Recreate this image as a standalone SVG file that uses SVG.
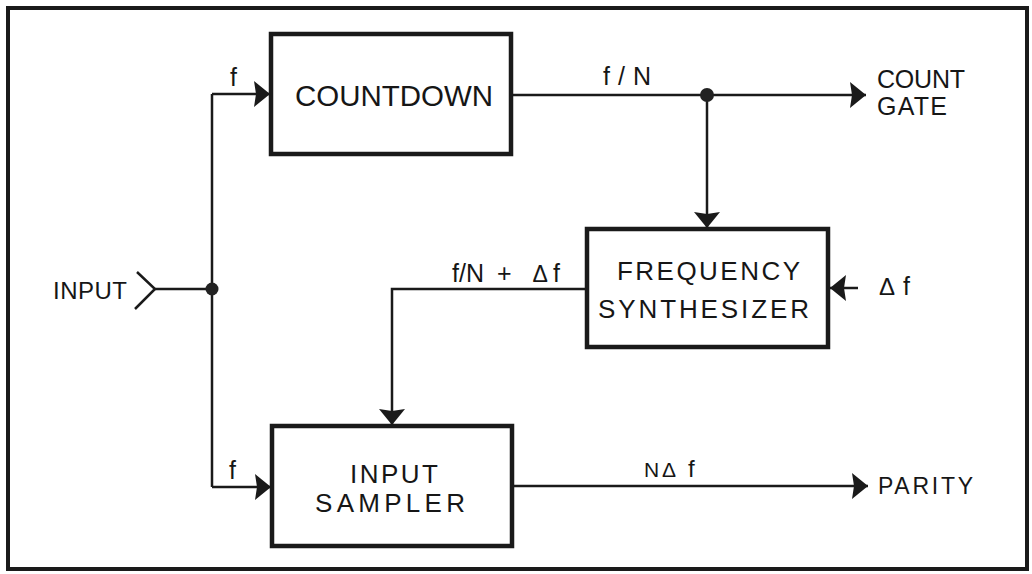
<svg xmlns="http://www.w3.org/2000/svg" width="1032" height="574" viewBox="0 0 1032 574">
<style>
.frame{fill:none;stroke:#1a1a1a;stroke-width:4}
.box{fill:#fff;stroke:#1a1a1a;stroke-width:4.5}
.wire{fill:none;stroke:#1a1a1a;stroke-width:2.5}
.dot{fill:#222}
text{font-family:"Liberation Sans",Arial,sans-serif;fill:#161616}
.bt{font-size:26px}
.lb{font-size:25px}
</style>
<defs>
<marker id="ah" markerUnits="userSpaceOnUse" markerWidth="17" markerHeight="27" refX="16" refY="13.5" orient="auto" viewBox="0 0 17 27">
<path d="M0,0.5 L16,13.5 L0,26.5 L2,13.5 Z" fill="#1a1a1a"/>
</marker>
</defs>
<rect x="0" y="0" width="1032" height="574" fill="#fff"/>
<rect class="frame" x="8" y="8" width="1019" height="561"/>

<g id="connectors">
<polyline class="wire" points="137,272 155,289 135,309" stroke-width="3"/>
<line class="wire" x1="155" y1="289" x2="212" y2="289"/>
<line class="wire" x1="212" y1="94" x2="212" y2="487"/>
<line class="wire" x1="212" y1="94" x2="270" y2="94" marker-end="url(#ah)"/>
<line class="wire" x1="212" y1="487" x2="271" y2="487" marker-end="url(#ah)"/>
<line class="wire" x1="511" y1="95" x2="866" y2="95" marker-end="url(#ah)"/>
<line class="wire" x1="707" y1="95" x2="707" y2="228" marker-end="url(#ah)"/>
<polyline class="wire" points="587,289 392,289 392,425" marker-end="url(#ah)"/>
<line class="wire" x1="858" y1="288" x2="830" y2="288" marker-end="url(#ah)"/>
<line class="wire" x1="512" y1="486" x2="868" y2="486" marker-end="url(#ah)"/>
<circle class="dot" cx="212" cy="289" r="6.5"/>
<circle class="dot" cx="707" cy="95" r="7"/>
</g>

<g id="countdown">
<rect class="box" x="271" y="34" width="240" height="120"/>
<text x="295" y="106" font-size="30" textLength="198" lengthAdjust="spacingAndGlyphs">COUNTDOWN</text>
</g>

<g id="frequency-synthesizer">
<rect class="box" x="587" y="229" width="241" height="118"/>
<text class="bt" x="617" y="280" textLength="183" lengthAdjust="spacing">FREQUENCY</text>
<text class="bt" x="598" y="318" textLength="211" lengthAdjust="spacing">SYNTHESIZER</text>
</g>

<g id="input-sampler">
<rect class="box" x="272" y="426" width="240" height="120"/>
<text class="bt" x="350" y="483" font-size="27" textLength="88" lengthAdjust="spacing">INPUT</text>
<text class="bt" x="315" y="512" textLength="150" lengthAdjust="spacing">SAMPLER</text>
</g>

<g id="input">
<text x="53" y="299" font-size="24" textLength="74" lengthAdjust="spacing">INPUT</text>
</g>

<g id="count-gate">
<text class="lb" x="877" y="88" textLength="88" lengthAdjust="spacing">COUNT</text>
<text class="lb" x="877" y="115" textLength="70" lengthAdjust="spacing">GATE</text>
</g>

<g id="parity">
<text x="878" y="494" font-size="23" textLength="95" lengthAdjust="spacing">PARITY</text>
</g>

<g id="labels">
<text class="lb" x="230" y="86">f</text>
<text class="lb" x="229" y="479">f</text>
<text class="lb" x="603" y="85" textLength="48" lengthAdjust="spacing">f/N</text>
<text class="lb" x="452" y="282">f/N<tspan x="490"> +</tspan><tspan x="526" font-size="23"> Δ</tspan><tspan x="553">f</tspan></text>
<text class="lb" x="879" y="295"><tspan font-size="24">Δ</tspan><tspan x="903">f</tspan></text>
<text x="644" y="477" font-size="21">N<tspan x="662" font-size="21">Δ</tspan><tspan x="688" font-size="24">f</tspan></text>
</g>
</svg>
